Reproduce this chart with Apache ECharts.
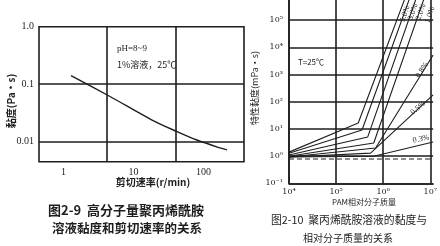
<!DOCTYPE html>
<html><head><meta charset="utf-8">
<script src="https://cdn.jsdelivr.net/npm/echarts@6/dist/echarts.min.js"></script>
<style>html,body{margin:0;padding:0;background:#fff}#c{width:440px;height:246px}</style>
</head><body><div id="c"></div>
<script>
// ---- Fig 2-9: viscosity vs shear rate ----
const shearRate = [1.28, 4.62, 18.4, 41.8, 80.7, 172, 217];
const viscosity = [0.1416, 0.0611, 0.0238, 0.0150, 0.0107, 0.0078, 0.0072];
const leftXTicks = [1, 10, 100];
const leftYTicks = [0.01, 0.1, 1];
const leftYTickText = ['0.01', '0.1', '1.0'];

// ---- Fig 2-10: intrinsic viscosity vs PAM molecular mass ----
const molMass = {
  L1: [1e4, 2.95e5, 3.2e6],
  L2: [1e4, 3.55e5, 4.0e6],
  L3: [1e4, 4.7e5, 5.5e6],
  L4: [1e4, 6.3e5, 8.1e6],
  L5: [1e4, 6.9e5, 1.15e7],
  L6: [1e4, 5.4e5, 1.15e7],
  L7: [1e4, 6.3e5, 1.15e7]
};
const intrVisc = {
  L1: [1.41, 16.6, 1e6],
  L2: [1.29, 9.2, 1e6],
  L3: [1.10, 5.1, 1e6],
  L4: [1.00, 3.06, 1e6],
  L5: [0.93, 2.0, 5250],
  L6: [0.93, 1.3, 178],
  L7: [0.93, 1.0, 3.3]
};
const concLabels = ['5.0%', '3.0%', '2.0%', '1.0%', '0.8%', '0.5%', '0.3%'];
const waterMass = [1e4, 1.15e7];
const waterVisc = [0.79, 0.79];
const rightXTicks = [1e4, 1e5, 1e6, 1e7];
const rightYTicks = [0.1, 1, 10, 100, 1e3, 1e4, 1e5];

const SUP = {'-':'⁻','0':'⁰','1':'¹','2':'²','3':'³','4':'⁴','5':'⁵','6':'⁶','7':'⁷','8':'⁸','9':'⁹'};
function pow10(v){ const e = Math.round(Math.log10(v)); return '10' + String(e).split('').map(c=>SUP[c]).join(''); }

const INK = '#1e1e1e';
const serif = 'Liberation Serif';
const cjk = 'Noto Sans CJK SC';
const gridLine = {show:true, lineStyle:{color:INK, width:1.6}};

const chart = echarts.init(document.getElementById('c'));
const series = [{
  type:'line', xAxisIndex:0, yAxisIndex:0, smooth:0.3, symbol:'none',
  lineStyle:{color:INK, width:1.4},
  data: shearRate.map((x,i)=>[x, viscosity[i]])
}];
Object.keys(molMass).forEach(k=>{
  series.push({type:'line', xAxisIndex:1, yAxisIndex:1, symbol:'none', clip:true,
    lineStyle:{color:INK, width:1.1},
    data: molMass[k].map((x,i)=>[x, intrVisc[k][i]])});
});
series.push({type:'line', xAxisIndex:1, yAxisIndex:1, symbol:'none',
  lineStyle:{color:INK, width:1.1, type:[5,3]},
  data: waterMass.map((x,i)=>[x, waterVisc[i]])});

const txt = (x,y,t,o)=>Object.assign({type:'text', x, y, style:Object.assign({text:t, fill:INK, font:'10px '+serif}, o||{})});
const rot = (x,y,r,t)=>({type:'text', x, y, rotation:r, style:{text:t, fill:INK, font:'8px '+serif, align:'center', verticalAlign:'middle'}});

chart.setOption({
  backgroundColor:'#fff',
  animation:false,
  grid:[
    {left:39, top:26.7, width:205, height:135, show:true, borderColor:INK, borderWidth:1.6},
    {left:289, top:0, right:0, bottom:62.6}
  ],
  xAxis:[
    {type:'log', gridIndex:0, min:0.447, max:379, logBase:10,
     axisLine:{show:false}, axisTick:{show:false, customValues:[4.18, 40.5]},
     splitLine:gridLine,
     axisLabel:{customValues:leftXTicks, formatter:v=>String(v), color:INK, fontFamily:serif, fontSize:10, margin:6}},
    {type:'log', gridIndex:1, min:1e4, max:1.148e7, logBase:10,
     axisLine:{show:true, onZero:false, lineStyle:{color:INK, width:1.6}}, axisTick:{show:false, customValues:rightXTicks},
     splitLine:gridLine,
     axisLabel:{customValues:rightXTicks, formatter:pow10, color:INK, fontFamily:'DejaVu Serif', fontSize:8, margin:5}}
  ],
  yAxis:[
    {type:'log', gridIndex:0, min:0.00449, max:1.0, logBase:10,
     axisLine:{show:false}, axisTick:{show:false, customValues:[0.01, 0.1]},
     splitLine:gridLine,
     axisLabel:{customValues:leftYTicks, formatter:v=>leftYTickText[leftYTicks.findIndex(t=>Math.abs(t-v)<1e-9)] || String(v), color:INK, fontFamily:serif, fontSize:10, margin:5}},
    {type:'log', gridIndex:1, min:0.1, max:5.5e5, logBase:10,
     axisLine:{show:true, onZero:false, lineStyle:{color:INK, width:1.6}}, axisTick:{show:false, customValues:rightYTicks},
     splitLine:gridLine,
     axisLabel:{customValues:rightYTicks, formatter:pow10, color:INK, fontFamily:'DejaVu Serif', fontSize:8, margin:6}}
  ],
  series,
  graphic:[
    txt(117,44,'pH=8~9',{font:'9px '+serif}),
    txt(117,60,'1%溶液，25℃',{font:'9px '+cjk}),
    {type:'text', x:11, y:101, rotation:Math.PI/2, style:{text:'黏度(Pa·s)', fill:INK, font:'bold 10px '+cjk, align:'center', verticalAlign:'middle'}},
    txt(153,182,'剪切速率(r/min)',{font:'bold 10px '+cjk, align:'center', verticalAlign:'middle'}),
    txt(126,210,'图2-9  高分子量聚丙烯酰胺',{font:'bold 13px '+cjk, align:'center', verticalAlign:'middle'}),
    txt(127,228,'溶液黏度和剪切速率的关系',{font:'bold 12.5px '+cjk, align:'center', verticalAlign:'middle'}),
    {type:'text', x:255, y:88, rotation:Math.PI/2, style:{text:'特性黏度(mPa·s)', fill:INK, font:'9px '+cjk, align:'center', verticalAlign:'middle'}},
    txt(311,62,'T=25℃',{font:'8px '+cjk, align:'center', verticalAlign:'middle'}),
    txt(364,202,'PAM相对分子质量',{font:'8px '+cjk, align:'center', verticalAlign:'middle'}),
    txt(349,220,'图2-10  聚丙烯酰胺溶液的黏度与',{font:'10.8px '+cjk, align:'center', verticalAlign:'middle'}),
    txt(348,238,'相对分子质量的关系',{font:'10px '+cjk, align:'center', verticalAlign:'middle'}),
    rot(405,14,1.25,concLabels[0]),
    rot(413,12,1.25,concLabels[1]),
    rot(421,12,1.25,concLabels[2]),
    rot(430,15,1.25,concLabels[3]),
    rot(422,70,1.0,concLabels[4]),
    rot(418,108,0.72,concLabels[5]),
    rot(421,139,0.22,concLabels[6])
  ]
});
</script></body></html>
